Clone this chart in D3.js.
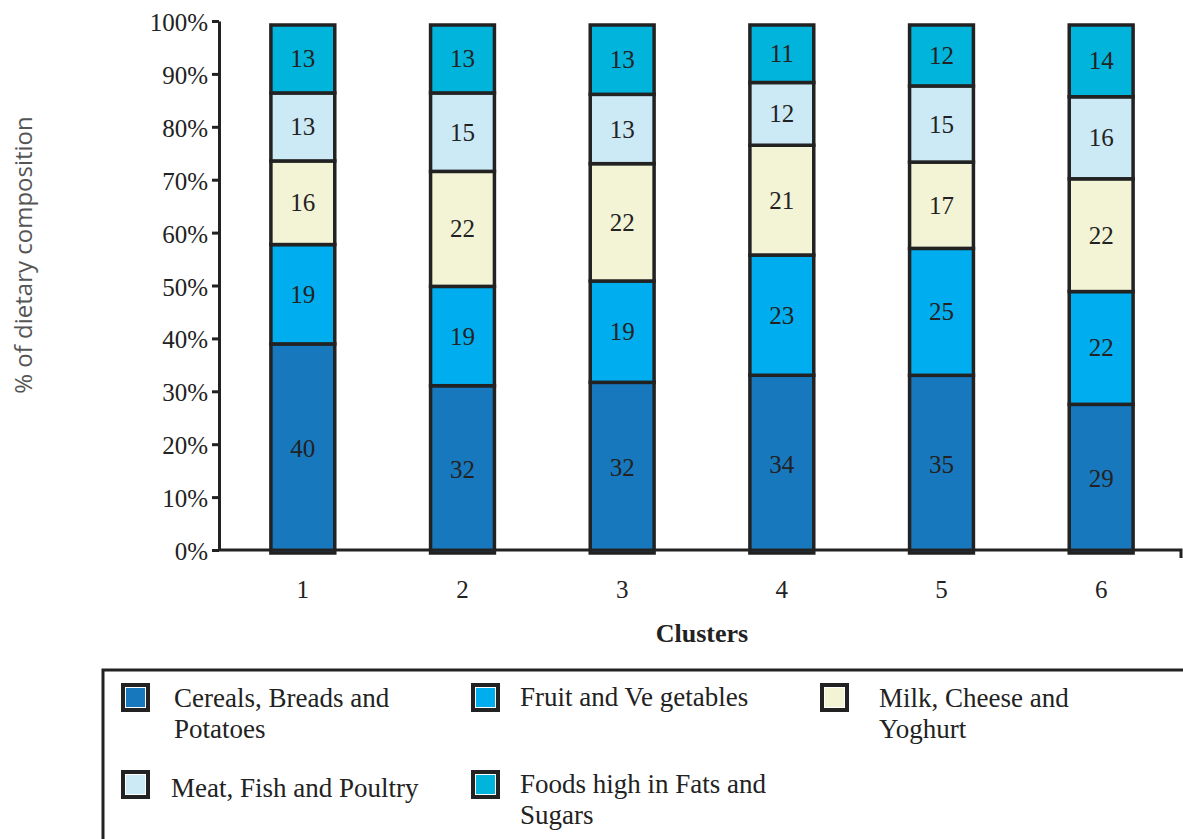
<!DOCTYPE html>
<html>
<head>
<meta charset="utf-8">
<script src="https://cdn.jsdelivr.net/npm/d3@7"></script>
<style>
  body { margin: 0; background: #fff; }
  svg { display: block; }
</style>
</head>
<body>
<svg id="chart" width="1183" height="839"></svg>
<script>
// Clusters on the x axis
const clusters = ["1", "2", "3", "4", "5", "6"];

// Food groups, bottom to top of each bar
const groups = [
  "Cereals, Breads and Potatoes",
  "Fruit and Vegetables",
  "Milk, Cheese and Yoghurt",
  "Meat, Fish and Poultry",
  "Foods high in Fats and Sugars"
];

// Share of the diet (%) for each cluster
const cereals    = [40, 32, 32, 34, 35, 29];
const fruitVeg   = [19, 19, 19, 23, 25, 22];
const dairy      = [16, 22, 22, 21, 17, 22];
const meat       = [13, 15, 13, 12, 15, 16];
const fatsSugars = [13, 13, 13, 11, 12, 14];

// Y axis ticks (percent)
const yTicks = [0, 10, 20, 30, 40, 50, 60, 70, 80, 90, 100];

// Legend text, one array of lines per group
const legendLines = [
  ["Cereals, Breads and", "Potatoes"],
  ["Fruit and Ve getables"],
  ["Milk, Cheese and", "Yoghurt"],
  ["Meat, Fish and Poultry"],
  ["Foods high in Fats and", "Sugars"]
];

const colors = ["#1878be", "#00aeef", "#f3f3d6", "#cce9f6", "#00b4dc"];
const ink = "#222";
const serif = "'Liberation Serif', 'Times New Roman', serif";

const series = [cereals, fruitVeg, dairy, meat, fatsSugars];
const table = clusters.map((c, i) => {
  const row = { cluster: c };
  groups.forEach((g, k) => { row[g] = series[k][i]; });
  return row;
});

// Each bar is normalised to 100%
const stacked = d3.stack().keys(groups).offset(d3.stackOffsetExpand)(table);

const svg = d3.select("#chart");

const x = d3.scaleBand()
  .domain(clusters)
  .range([223, 1181])
  .paddingInner(0.6)
  .paddingOuter(0.3);

// Axis scale, and the bar scale whose base sits on the axis line
const y = d3.scaleLinear().domain([0, 100]).range([550, 21]);
const yBar = d3.scaleLinear().domain([0, 1]).range([553, 25]);

// Bars
const layer = svg.append("g").selectAll("g")
  .data(stacked)
  .join("g")
  .attr("fill", (d, i) => colors[i]);

layer.selectAll("rect")
  .data(d => d)
  .join("rect")
  .attr("x", d => x(d.data.cluster))
  .attr("y", d => yBar(d[1]))
  .attr("width", x.bandwidth())
  .attr("height", d => yBar(d[0]) - yBar(d[1]))
  .attr("stroke", ink)
  .attr("stroke-width", 3.5);

// Segment value labels
layer.each(function (s) {
  d3.select(this).selectAll("text")
    .data(s)
    .join("text")
    .attr("x", d => x(d.data.cluster) + x.bandwidth() / 2)
    .attr("y", d => (yBar(d[0]) + yBar(d[1])) / 2)
    .attr("dy", "0.34em")
    .attr("text-anchor", "middle")
    .attr("fill", ink)
    .attr("font-family", serif)
    .attr("font-size", 25)
    .text(d => d.data[s.key]);
});

// Y axis
const yAxis = svg.append("g")
  .attr("transform", "translate(219,0)")
  .call(d3.axisLeft(y)
    .tickValues(yTicks)
    .tickSize(7)
    .tickSizeOuter(0)
    .tickPadding(4)
    .tickFormat(d => d + "%"));
yAxis.select(".domain").attr("stroke", ink).attr("stroke-width", 3);
yAxis.selectAll(".tick line").attr("stroke", ink).attr("stroke-width", 3);
yAxis.selectAll(".tick text")
  .attr("fill", ink)
  .attr("font-family", serif)
  .attr("font-size", 25)
  .attr("dy", "0.38em");

// X axis
const xAxis = svg.append("g")
  .attr("transform", "translate(0,550)")
  .call(d3.axisBottom(x).tickSize(0).tickSizeOuter(0));
xAxis.select(".domain").remove();
xAxis.selectAll(".tick text")
  .attr("y", 48)
  .attr("dy", 0)
  .attr("fill", ink)
  .attr("font-family", serif)
  .attr("font-size", 25);
xAxis.append("path")
  .attr("d", "M219,0H1181V8")
  .attr("fill", "none")
  .attr("stroke", ink)
  .attr("stroke-width", 3);

// Axis titles
svg.append("text")
  .attr("x", 702)
  .attr("y", 642)
  .attr("text-anchor", "middle")
  .attr("font-family", serif)
  .attr("font-weight", "bold")
  .attr("font-size", 26)
  .attr("fill", ink)
  .text("Clusters");

svg.append("text")
  .attr("transform", "translate(32,255) rotate(-90)")
  .attr("text-anchor", "middle")
  .attr("font-family", "'Open Sans', sans-serif")
  .attr("font-size", 24)
  .attr("fill", "#555")
  .text("% of dietary composition");

// Legend
svg.append("rect")
  .attr("x", 103)
  .attr("y", 670)
  .attr("width", 1200)
  .attr("height", 300)
  .attr("fill", "none")
  .attr("stroke", ink)
  .attr("stroke-width", 3);

const legendPos = [
  { sx: 121, sy: 683, tx: 174, ty: 707 },
  { sx: 471, sy: 683, tx: 520, ty: 706 },
  { sx: 820, sy: 683, tx: 879, ty: 707 },
  { sx: 121, sy: 770, tx: 171, ty: 797 },
  { sx: 471, sy: 770, tx: 520, ty: 793 }
];

const legend = svg.append("g").selectAll("g")
  .data(groups)
  .join("g");

legend.append("rect")
  .attr("x", (d, i) => legendPos[i].sx)
  .attr("y", (d, i) => legendPos[i].sy)
  .attr("width", 29).attr("height", 29)
  .attr("fill", ink);
legend.append("rect")
  .attr("x", (d, i) => legendPos[i].sx + 4)
  .attr("y", (d, i) => legendPos[i].sy + 4)
  .attr("width", 21).attr("height", 21)
  .attr("fill", "#fff");
legend.append("rect")
  .attr("x", (d, i) => legendPos[i].sx + 5)
  .attr("y", (d, i) => legendPos[i].sy + 5)
  .attr("width", 19).attr("height", 19)
  .attr("fill", (d, i) => colors[i]);

legend.append("text")
  .attr("font-family", serif)
  .attr("font-size", 27)
  .attr("fill", ink)
  .each(function (d, i) {
    const p = legendPos[i];
    d3.select(this).selectAll("tspan")
      .data(legendLines[i])
      .join("tspan")
      .attr("x", p.tx)
      .attr("y", (t, j) => p.ty + j * 31)
      .text(t => t);
  });
</script>
</body>
</html>
